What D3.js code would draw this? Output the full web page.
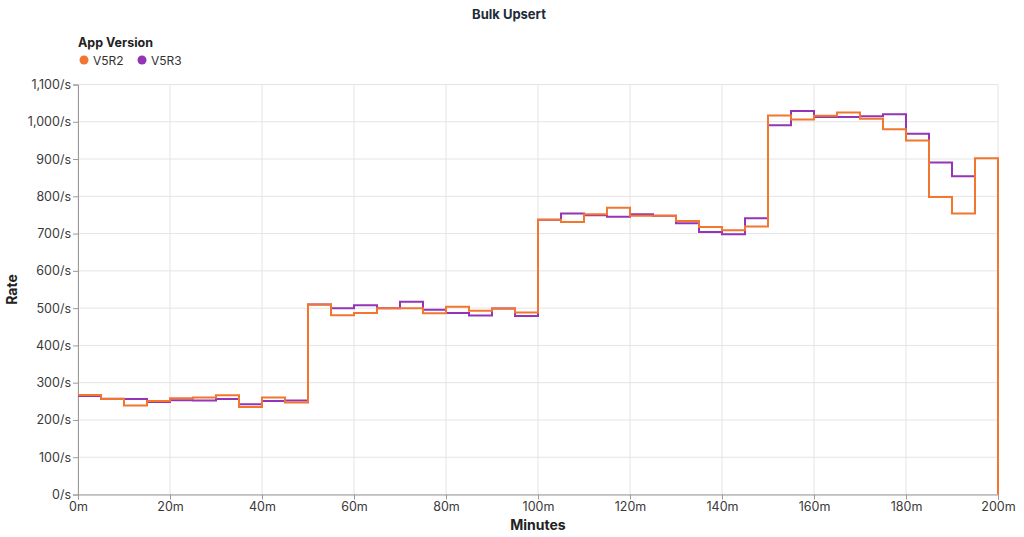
<!DOCTYPE html>
<html>
<head>
<meta charset="utf-8">
<script src="https://cdn.jsdelivr.net/npm/d3@7"></script>
<style>
  html, body { margin: 0; padding: 0; background: #fff; }
  svg { display: block; }
  text { font-family: Inter, "Liberation Sans", sans-serif; }
</style>
</head>
<body>
<svg id="chart" width="1024" height="537"></svg>
<script>
// ---- data ----
const title = "Bulk Upsert";
const legendTitle = "App Version";
const seriesNames = ["V5R2", "V5R3"];
const seriesColors = ["#f2762e", "#9434b6"];
const xTicks = [0, 20, 40, 60, 80, 100, 120, 140, 160, 180, 200];
const yTicks = [0, 100, 200, 300, 400, 500, 600, 700, 800, 900, 1000, 1100];
// minute marks (start of each 5-minute step)
const minutes = [0,5,10,15,20,25,30,35,40,45,50,55,60,65,70,75,80,85,90,95,
                 100,105,110,115,120,125,130,135,140,145,150,155,160,165,170,175,180,185,190,195,200];
// V5R2 (orange) – last point at 200m is 0
const v5r2 = [267,256,239,251,258,260,266,235,260,247,
              510,481,487,500,500,486,504,493,499,488,
              737,731,752,769,748,748,734,718,709,719,
              1017,1006,1016,1025,1008,980,950,798,754,902,
              0];
// V5R3 (purple) – ends at 195m
const v5r3 = [264,257,256,248,253,252,256,242,251,252,
              510,500,508,500,517,496,487,480,499,479,
              737,754,749,745,752,748,728,704,698,741,
              991,1029,1013,1013,1015,1020,968,891,854,854];

// ---- layout ----
const svg = d3.select("#chart");
const W = 1024, H = 537;
const m = { left: 78, right: 1024 - 998, top: 84.5, bottom: 537 - 494.5 };

const x = d3.scaleLinear().domain([0, 200]).range([m.left, W - m.right]);
const y = d3.scaleLinear().domain([0, 1100]).range([H - m.bottom, m.top]);

// grid
const grid = svg.append("g");
grid.selectAll("line.gx").data(xTicks).join("line")
  .attr("x1", d => x(d)).attr("x2", d => x(d))
  .attr("y1", y(0)).attr("y2", y(1100))
  .attr("stroke", "#e4e4e4").attr("stroke-width", 1);
grid.selectAll("line.gy").data(yTicks).join("line")
  .attr("x1", x(0)).attr("x2", x(200))
  .attr("y1", d => y(d)).attr("y2", d => y(d))
  .attr("stroke", "#e4e4e4").attr("stroke-width", 1);

// axes
const fmtY = d => d3.format(",")(d) + "/s";
const yAxis = svg.append("g").attr("transform", `translate(${m.left},0)`)
  .call(d3.axisLeft(y).tickValues(yTicks).tickFormat(fmtY).tickSize(5).tickPadding(2));
const xAxis = svg.append("g").attr("transform", `translate(0,${H - m.bottom})`)
  .call(d3.axisBottom(x).tickValues(xTicks).tickFormat(d => d + "m").tickSize(5).tickPadding(3));
[xAxis, yAxis].forEach(a => {
  a.selectAll("path.domain").attr("stroke", "#9a9a9a");
  a.selectAll(".tick line").attr("stroke", "#9a9a9a");
  a.selectAll("text").attr("fill", "#3a3a3a").style("font-size", "12.5px")
    .style("font-family", 'Inter, "Liberation Sans", sans-serif');
});

// lines
const line = d3.line()
  .x(d => x(d[0])).y(d => y(d[1]))
  .curve(d3.curveStepAfter);
const data = [
  v5r3.map((v, i) => [minutes[i], v]),
  v5r2.map((v, i) => [minutes[i], v])
];
const colorsOrdered = [seriesColors[1], seriesColors[0]];
svg.append("g").selectAll("path").data(data).join("path")
  .attr("d", line)
  .attr("fill", "none")
  .attr("stroke", (d, i) => colorsOrdered[i])
  .attr("stroke-width", 2)
  .attr("stroke-linejoin", "miter");

// title
svg.append("text").attr("x", 509).attr("y", 19).attr("text-anchor", "middle")
  .attr("fill", "#1d2b3a").style("font-size", "13px").style("font-weight", "bold")
  .text(title);

// axis titles
svg.append("text").attr("x", (x(0) + x(200)) / 2).attr("y", 530).attr("text-anchor", "middle")
  .attr("fill", "#222").style("font-size", "14px").style("font-weight", "bold")
  .text("Minutes");
svg.append("text").attr("transform", `translate(17,${(y(0) + y(1100)) / 2}) rotate(-90)`)
  .attr("text-anchor", "middle").attr("fill", "#222")
  .style("font-size", "14px").style("font-weight", "bold")
  .text("Rate");

// legend
const lg = svg.append("g");
lg.append("text").attr("x", 78).attr("y", 47).attr("fill", "#222")
  .style("font-size", "12.5px").style("font-weight", "bold").text(legendTitle);
const items = lg.selectAll("g.item").data(seriesNames).join("g")
  .attr("transform", (d, i) => `translate(${84 + i * 58},60)`);
items.append("circle").attr("r", 4.5).attr("fill", (d, i) => seriesColors[i]);
items.append("text").attr("x", 9).attr("y", 4.5).attr("fill", "#333")
  .style("font-size", "12px").text(d => d);
</script>
</body>
</html>
